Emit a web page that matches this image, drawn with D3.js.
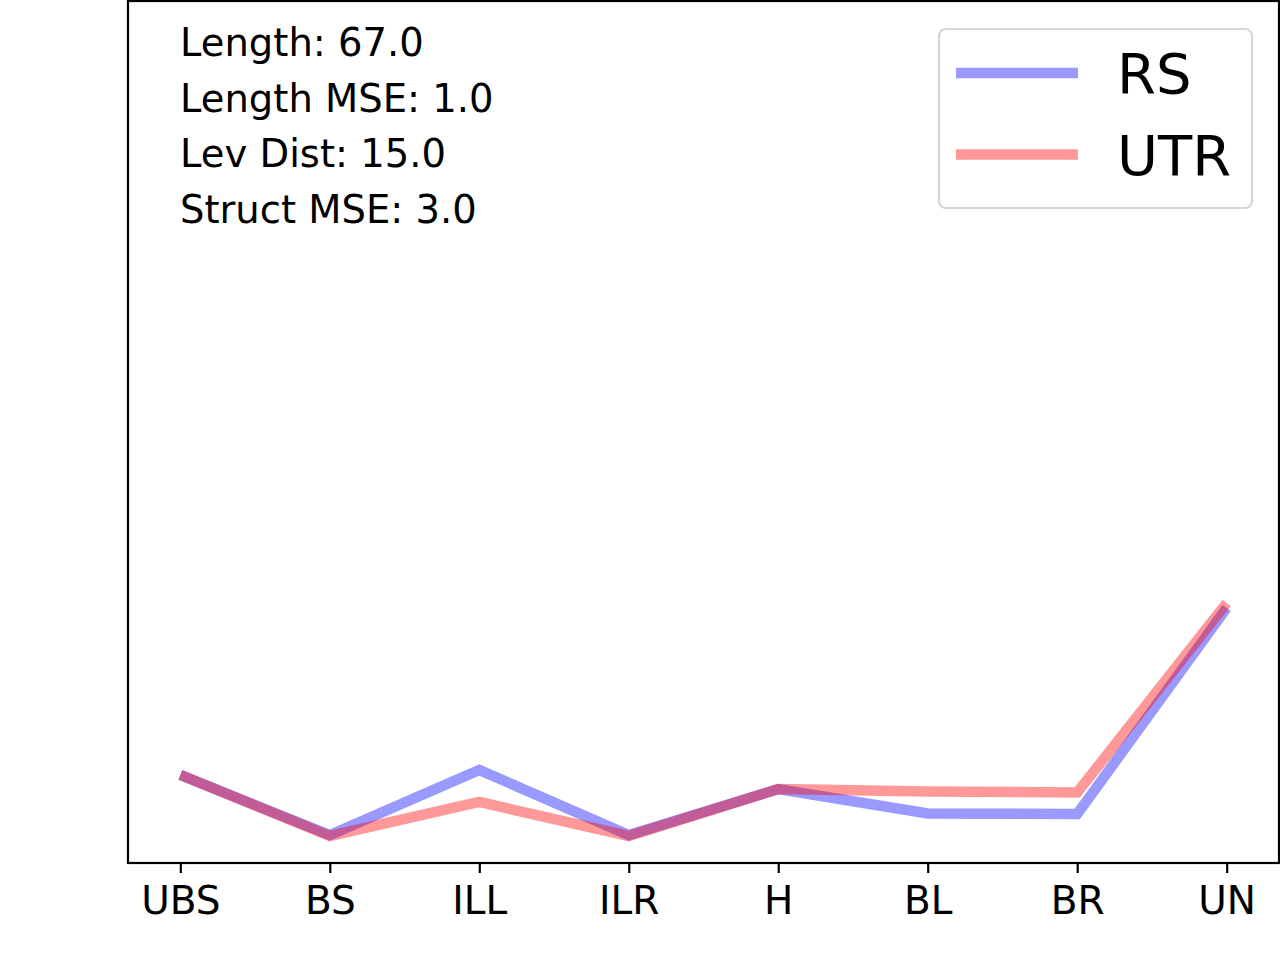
<!DOCTYPE html>
<html>
<head>
<meta charset="utf-8">
<script src="https://cdn.jsdelivr.net/npm/d3@7"></script>
<style>
  body { margin: 0; background: #fff; }
  svg { display: block; font-family: "DejaVu Sans", sans-serif; }
</style>
</head>
<body>
<script>
const WIDTH = 1280;
const HEIGHT = 960;

const categories = ["UBS", "BS", "ILL", "ILR", "H", "BL", "BR", "UN"];
const rsValues = [10.2, 3.24, 10.78, 3.24, 8.57, 5.74, 5.68, 29.55];
const utrValues = [10.2, 3.13, 7.07, 3.13, 8.57, 8.29, 8.17, 30.13];
const seriesNames = ["RS", "UTR"];
const seriesColors = ["#0000ff", "#ff0000"];
const infoLines = ["Length: 67.0", "Length MSE: 1.0", "Lev Dist: 15.0", "Struct MSE: 3.0"];

const AX_LEFT = 128, AX_RIGHT = 1279, AX_TOP = 1, AX_BOTTOM = 863;

const svg = d3.select("body").append("svg")
    .attr("width", WIDTH)
    .attr("height", HEIGHT);

const x = d3.scalePoint()
    .domain(categories)
    .range([AX_LEFT, AX_RIGHT])
    .padding(0.35);

const y = d3.scaleLinear()
    .domain([0, 100])
    .range([AX_BOTTOM, 0]);

// lines, blue first then red on top
const line = d3.line()
    .x((d, i) => x(categories[i]))
    .y(d => y(d));

[rsValues, utrValues].forEach((vals, k) => {
    svg.append("path")
        .datum(vals)
        .attr("d", line)
        .attr("fill", "none")
        .attr("stroke", seriesColors[k])
        .attr("stroke-opacity", 0.4)
        .attr("stroke-width", 10.5)
        .attr("stroke-linejoin", "miter")
        .attr("stroke-linecap", "butt");
});

// frame
svg.append("rect")
    .attr("x", AX_LEFT)
    .attr("y", AX_TOP)
    .attr("width", AX_RIGHT - AX_LEFT)
    .attr("height", AX_BOTTOM - AX_TOP)
    .attr("fill", "none")
    .attr("stroke", "black")
    .attr("stroke-width", 2.2);

// x axis
const xAxis = svg.append("g")
    .attr("transform", `translate(0,${AX_BOTTOM})`)
    .call(d3.axisBottom(x).tickSize(10).tickPadding(13));
xAxis.select(".domain").remove();
xAxis.selectAll(".tick line").attr("stroke-width", 2.2);
xAxis.selectAll(".tick text")
    .attr("font-size", 39)
    .attr("font-family", "DejaVu Sans")
    .attr("fill", "black");

// info text
svg.append("g").selectAll("text")
    .data(infoLines).enter()
    .append("text")
    .attr("x", 180)
    .attr("y", (d, i) => 56 + i * 55.5)
    .attr("font-size", 38.5)
    .attr("fill", "black")
    .text(d => d);

// legend
const legend = svg.append("g");
legend.append("rect")
    .attr("x", 939)
    .attr("y", 29)
    .attr("width", 313)
    .attr("height", 179)
    .attr("rx", 7)
    .attr("fill", "white")
    .attr("fill-opacity", 0.8)
    .attr("stroke", "#d6d6d6")
    .attr("stroke-width", 2.2);

seriesNames.forEach((name, i) => {
    const cy = 73 + i * 81.5;
    legend.append("line")
        .attr("x1", 956).attr("x2", 1078)
        .attr("y1", cy).attr("y2", cy)
        .attr("stroke", seriesColors[i])
        .attr("stroke-opacity", 0.4)
        .attr("stroke-width", 10.5);
    legend.append("text")
        .attr("x", 1117)
        .attr("y", cy + 20)
        .attr("font-size", 56)
        .attr("fill", "black")
        .text(name);
});
</script>
</body>
</html>
